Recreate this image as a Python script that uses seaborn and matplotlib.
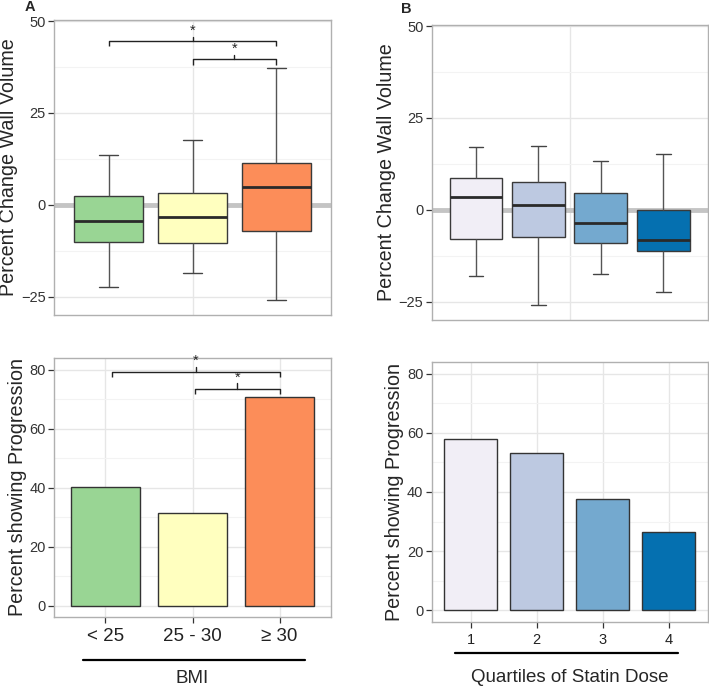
import numpy as np
import pandas as pd
import matplotlib
matplotlib.use('Agg')
import matplotlib.pyplot as plt
from matplotlib.ticker import MultipleLocator
from matplotlib.lines import Line2D
import seaborn as sns

# ---- data ----
bmi_groups = ["< 25", "25 - 30", "\u2265 30"]
bmi_colors = ["#99d594", "#ffffbf", "#fc8d59"]
# whisker low, Q1, median, Q3, whisker high
bmi_box = [
    [-22.4, -10.1, -4.3, 2.4, 13.6],
    [-18.7, -10.5, -3.4, 3.3, 17.7],
    [-26.0, -7.1, 4.8, 11.5, 37.3],
]
bmi_progression = [40.2, 31.4, 70.6]

statin_groups = ["1", "2", "3", "4"]
statin_colors = ["#f1eef6", "#bdc9e1", "#74a9cf", "#0570b0"]
statin_box = [
    [-18.0, -7.9, 3.4, 8.6, 17.1],
    [-25.8, -7.4, 1.2, 7.5, 17.4],
    [-17.4, -9.0, -3.5, 4.6, 13.3],
    [-22.4, -11.1, -8.1, 0.0, 15.3],
]
statin_progression = [58.0, 53.1, 37.5, 26.3]

# significance brackets: (from, to, height)
box_brackets = [(0, 2, 44.7), (1, 2, 39.6)]
bar_brackets = [(0.08, 2, 79.2), (1.03, 2, 73.5)]

sns.set_theme(style="white")
plt.rcParams['font.family'] = ['Liberation Sans', 'DejaVu Sans']

GRID = "#e6e6e6"
MINOR = "#f3f3f3"
SPINE = "#b0b0b0"


def long_frame(groups, stats):
    rows = []
    for g, s in zip(groups, stats):
        for v in s:
            rows.append({"group": g, "value": v})
    return pd.DataFrame(rows)


def style_axes(ax, minor_step):
    for sp in ax.spines.values():
        sp.set_visible(True)
        sp.set_color(SPINE)
        sp.set_linewidth(1.0)
    ax.set_axisbelow(True)
    ax.yaxis.set_minor_locator(MultipleLocator(minor_step))
    ax.grid(which="major", axis="both", color=GRID, linewidth=1.0)
    ax.grid(which="minor", axis="y", color=MINOR, linewidth=0.8)
    ax.tick_params(axis="y", which="major", left=True, length=4, width=0.9,
                   color="#333333", labelsize=10.5, labelcolor="#333333", pad=2)
    ax.tick_params(axis="y", which="minor", left=False, length=0)


def draw_box(ax, groups, colors, stats, width, xlim, grid_x):
    df = long_frame(groups, stats)
    sns.boxplot(data=df, x="group", y="value", hue="group", order=groups,
                hue_order=groups, palette=colors, saturation=1, whis=np.inf,
                width=width, linecolor="#3a3a3a", linewidth=1.0, legend=False,
                ax=ax, medianprops=dict(color="#2a2a2a", linewidth=2.0),
                whiskerprops=dict(color="#555555", linewidth=1.0),
                capprops=dict(color="#444444", linewidth=1.0))
    # shrink caps like ggplot errorbar width
    for ln in ax.lines:
        xd = np.asarray(ln.get_xdata(), dtype=float)
        yd = np.asarray(ln.get_ydata(), dtype=float)
        if len(xd) == 2 and yd[0] == yd[1] and abs(xd[1] - xd[0]) < width * 0.6:
            c = xd.mean()
            half = width * 0.14
            ln.set_xdata([c - half, c + half])
    ax.axhline(0, color="#c4c4c4", linewidth=3.5, zorder=0.8)
    style_axes(ax, 12.5)
    ax.set_ylim(-30, 50.3)
    ax.set_yticks([-25, 0, 25, 50])
    ax.set_xticks([grid_x])
    ax.set_xticklabels([])
    ax.tick_params(axis="x", length=0)
    ax.set_xlim(*xlim)
    ax.set_xlabel("")
    ax.set_ylabel("Percent Change Wall Volume", fontsize=14.2, labelpad=2)


def draw_bar(ax, groups, colors, values, xlim, tick_size):
    sns.barplot(x=groups, y=values, hue=groups, order=groups, hue_order=groups,
                palette=colors, saturation=1, width=0.8, edgecolor="#333333",
                linewidth=1.0, errorbar=None, legend=False, ax=ax)
    style_axes(ax, 10)
    ax.set_ylim(-3.9, 84)
    ax.set_yticks([0, 20, 40, 60, 80])
    ax.set_xticks(range(len(groups)))
    ax.set_xticklabels(groups)
    ax.tick_params(axis="x", bottom=True, length=4, width=0.9, color="#333333",
                   labelsize=tick_size, labelcolor="#222222", pad=4)
    ax.set_xlim(*xlim)
    ax.set_ylabel("Percent showing Progression", fontsize=14.2, labelpad=2)


def bracket(ax, x0, x1, y, leg, tip, star_gap):
    xm = (x0 + x1) / 2
    ax.plot([x0, x0, x1, x1], [y - leg, y, y, y - leg], color="#222222",
            linewidth=1.0, solid_capstyle="butt", clip_on=False)
    ax.plot([xm, xm], [y, y + tip], color="#222222", linewidth=1.0, clip_on=False)
    ax.text(xm, y + tip + star_gap, "*", ha="center", va="center", fontsize=10.5)


def underline(ax, x0, x1, y):
    ax.add_line(Line2D([x0, x1], [y, y], transform=ax.transAxes, color="black",
                       linewidth=1.6, clip_on=False))


fig = plt.figure(figsize=(7.09, 6.88), dpi=100)

ax_a1 = fig.add_axes([0.0762, 0.5422, 0.3907, 0.4287])
ax_b1 = fig.add_axes([0.6089, 0.5349, 0.3891, 0.4288])
ax_a2 = fig.add_axes([0.0762, 0.1032, 0.3907, 0.3765])
ax_b2 = fig.add_axes([0.6089, 0.0964, 0.3891, 0.3775])

draw_box(ax_a1, bmi_groups, bmi_colors, bmi_box, 0.83, (-0.65, 2.65), 1)
draw_box(ax_b1, statin_groups, statin_colors, statin_box, 0.845, (-0.71, 3.71), 1.5)
draw_bar(ax_a2, bmi_groups, bmi_colors, bmi_progression, (-0.59, 2.59), 13.5)
draw_bar(ax_b2, statin_groups, statin_colors, statin_progression, (-0.59, 3.59), 10.5)

for x0, x1, y in box_brackets:
    bracket(ax_a1, x0, x1, y, 1.6, 1.1, 1.7)
for x0, x1, y in bar_brackets:
    bracket(ax_a2, x0, x1, y, 1.8, 1.9, 1.9)

underline(ax_a2, 0.105, 0.906, -0.166)
underline(ax_b2, 0.084, 0.891, -0.119)
ax_a2.set_xlabel("BMI", fontsize=13.5, labelpad=18)
ax_b2.set_xlabel("Quartiles of Statin Dose", fontsize=13.5, labelpad=16)

fig.text(25 / 709, 1 - 7 / 688, "A", fontsize=10.5, fontweight="bold", ha="left", va="center")
fig.text(401 / 709, 1 - 9 / 688, "B", fontsize=10.5, fontweight="bold", ha="left", va="center")

fig.savefig("out.png", dpi=100)
